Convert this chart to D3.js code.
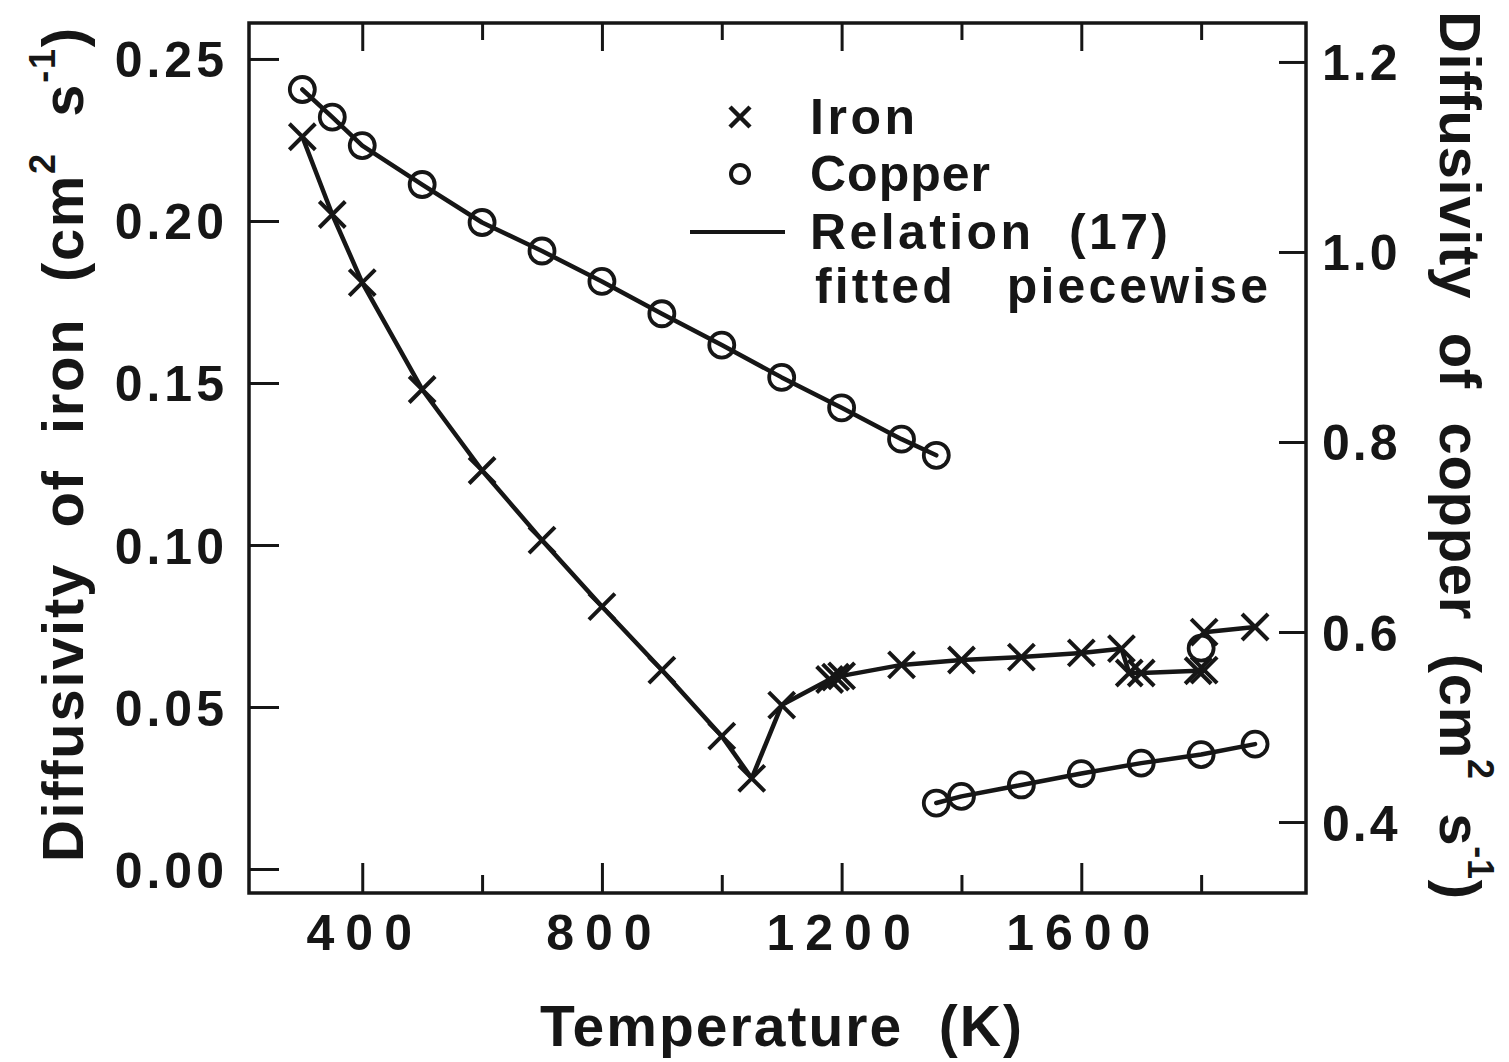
<!DOCTYPE html>
<html>
<head>
<meta charset="utf-8">
<script src="https://cdn.jsdelivr.net/npm/d3@7"></script>
<style>
  html, body { margin: 0; padding: 0; background: #fff; }
  svg { display: block; }
  text { font-family: "Liberation Sans", Arial, sans-serif; fill: #161616; white-space: pre; }
  text.narrow { font-family: "Liberation Sans Narrow", "Arial Narrow", "Liberation Sans", sans-serif; }
</style>
</head>
<body>
<svg id="chart" width="1509" height="1062"></svg>
<script>
// ---------------- data ----------------
// Iron (left axis, cm^2 s^-1), piecewise segments
const ironAlphaT = [300, 350, 400, 500, 600, 700, 800, 900, 1000, 1050, 1100, 1180];
const ironAlphaD = [0.226, 0.202, 0.181, 0.148, 0.123, 0.1015, 0.081, 0.0614, 0.041, 0.028, 0.0506, 0.0585];
const ironGammaT = [1190, 1200, 1300, 1400, 1500, 1600, 1667];
const ironGammaD = [0.0592, 0.0596, 0.063, 0.0645, 0.0654, 0.0667, 0.068];
const ironDeltaT = [1680, 1700, 1795, 1805];
const ironDeltaD = [0.0605, 0.0605, 0.0612, 0.0614];
const ironLiquidT = [1805, 1890];
const ironLiquidD = [0.0731, 0.0747];

// Copper (right axis, cm^2 s^-1)
const copperSolidT = [300, 350, 400, 500, 600, 700, 800, 900, 1000, 1100, 1200, 1300, 1358];
const copperSolidD = [1.171, 1.142, 1.112, 1.071, 1.031, 1.001, 0.969, 0.935, 0.902, 0.868, 0.836, 0.803, 0.786];
const copperLiquidT = [1358, 1400, 1500, 1600, 1700, 1800, 1890];
const copperLiquidD = [0.420, 0.427, 0.439, 0.451, 0.462, 0.471, 0.482];
const copperExtraT = [1800];
const copperExtraD = [0.583];

// Tick labels
const xMajorTicks = [400, 800, 1200, 1600];
const xMinorTicks = [600, 1000, 1400, 1800];
const yLeftTicks = [0.00, 0.05, 0.10, 0.15, 0.20, 0.25];
const yRightTicks = [0.4, 0.6, 0.8, 1.0, 1.2];

const legendLabels = ["Iron", "Copper", "Relation  (17)", "fitted   piecewise"];

// ---------------- layout ----------------
const W = 1509, H = 1062;
const plot = { left: 249, right: 1306, top: 23, bottom: 893 };
const ink = "#161616";

const svg = d3.select("#chart");
svg.append("rect").attr("width", W).attr("height", H).attr("fill", "#fff");

const x = d3.scaleLinear().domain([211, 1975]).range([plot.left, plot.right]);
const yL = d3.scaleLinear().domain([-0.0074, 0.2611]).range([plot.bottom, plot.top]);
const yR = d3.scaleLinear().domain([0.3253, 1.241]).range([plot.bottom, plot.top]);

const zip = (a, b) => a.map((v, i) => [v, b[i]]);

// ---------------- axes ----------------
function styleAxis(g) {
  g.select(".domain").remove();
  g.selectAll(".tick line").attr("stroke", ink).attr("stroke-width", 3);
}

const gxB = svg.append("g").attr("transform", `translate(0,${plot.bottom})`)
  .call(d3.axisBottom(x).tickValues(xMajorTicks).tickSize(-30).tickFormat(d3.format("d")).tickPadding(0));
styleAxis(gxB);
gxB.selectAll(".tick text")
  .attr("y", 57).attr("dy", 0)
  .attr("font-size", 50).attr("font-weight", "bold")
  .attr("letter-spacing", 11).attr("dx", 2)
  .attr("fill", ink);
const gxBm = svg.append("g").attr("transform", `translate(0,${plot.bottom})`)
  .call(d3.axisBottom(x).tickValues(xMinorTicks).tickSize(-18).tickFormat(""));
styleAxis(gxBm);
const gxT = svg.append("g").attr("transform", `translate(0,${plot.top})`)
  .call(d3.axisTop(x).tickValues(xMajorTicks).tickSize(-28).tickFormat(""));
styleAxis(gxT);
const gxTm = svg.append("g").attr("transform", `translate(0,${plot.top})`)
  .call(d3.axisTop(x).tickValues(xMinorTicks).tickSize(-17).tickFormat(""));
styleAxis(gxTm);

const gyL = svg.append("g").attr("transform", `translate(${plot.left},0)`)
  .call(d3.axisLeft(yL).tickValues(yLeftTicks).tickSize(-30).tickFormat(d3.format(".2f")).tickPadding(0));
styleAxis(gyL);
gyL.selectAll(".tick text")
  .attr("x", -21).attr("dy", "0.36em")
  .attr("font-size", 50).attr("font-weight", "bold")
  .attr("letter-spacing", 4)
  .attr("fill", ink);

const gyR = svg.append("g").attr("transform", `translate(${plot.right},0)`)
  .call(d3.axisRight(yR).tickValues(yRightTicks).tickSize(-27).tickFormat(d3.format(".1f")).tickPadding(0));
styleAxis(gyR);
gyR.selectAll(".tick text")
  .attr("x", 16).attr("dy", "0.36em")
  .attr("font-size", 50).attr("font-weight", "bold")
  .attr("letter-spacing", 3)
  .attr("fill", ink);

svg.append("rect")
  .attr("x", plot.left).attr("y", plot.top)
  .attr("width", plot.right - plot.left).attr("height", plot.bottom - plot.top)
  .attr("fill", "none").attr("stroke", ink).attr("stroke-width", 3.5);

// ---------------- axis titles ----------------
svg.append("text")
  .attr("x", 781).attr("y", 1046)
  .attr("text-anchor", "middle")
  .attr("font-size", 57).attr("font-weight", "bold")
  .attr("textLength", 482).attr("lengthAdjust", "spacing")
  .text("Temperature  (K)");

function unitTitle(label, tx, ty, rot, len) {
  const t = svg.append("text").attr("class", "narrow")
    .attr("transform", `translate(${tx},${ty}) rotate(${rot})`)
    .attr("text-anchor", "middle")
    .attr("font-size", 58).attr("font-weight", "bold")
    .attr("textLength", len).attr("lengthAdjust", "spacing");
  t.append("tspan").text(label + "  (cm");
  t.append("tspan").attr("font-size", 36).attr("dy", -28).text("2");
  t.append("tspan").attr("dy", 28).text("  s");
  t.append("tspan").attr("font-size", 36).attr("dy", -28).text("-1");
  t.append("tspan").attr("dy", 28).text(")");
}
unitTitle("Diffusivity  of  iron", 83, 445, -90, 834);
unitTitle("Diffusivity  of  copper", 1440, 455, 90, 888);

// ---------------- data marks ----------------
const lineL = d3.line().x(d => x(d[0])).y(d => yL(d[1]));
const lineR = d3.line().x(d => x(d[0])).y(d => yR(d[1]));

const ironSegs = [zip(ironAlphaT, ironAlphaD), zip(ironGammaT, ironGammaD),
                  zip(ironDeltaT, ironDeltaD), zip(ironLiquidT, ironLiquidD)];
const copperSegs = [zip(copperSolidT, copperSolidD), zip(copperLiquidT, copperLiquidD)];

const ironJoins = [
  [ironSegs[0][ironSegs[0].length - 1], ironSegs[1][0]],
  [ironSegs[1][ironSegs[1].length - 1], ironSegs[2][0]],
];

const lines = svg.append("g").attr("fill", "none").attr("stroke", ink)
  .attr("stroke-width", 4.5).attr("stroke-linejoin", "round").attr("stroke-linecap", "round");
ironSegs.forEach(s => lines.append("path").attr("d", lineL(s)));
ironJoins.forEach(s => lines.append("path").attr("d", lineL(s)));
copperSegs.forEach(s => lines.append("path").attr("d", lineR(s)));

const xr = 13;
const crossPath = `M${-xr},${-xr}L${xr},${xr}M${-xr},${xr}L${xr},${-xr}`;
const ironPts = ironSegs.flat();
svg.append("g").selectAll("path").data(ironPts).join("path")
  .attr("transform", d => `translate(${x(d[0])},${yL(d[1])})`)
  .attr("d", crossPath)
  .attr("stroke", ink).attr("stroke-width", 4).attr("fill", "none");

const copperPts = copperSegs.flat().concat(zip(copperExtraT, copperExtraD));
svg.append("g").selectAll("circle").data(copperPts).join("circle")
  .attr("cx", d => x(d[0])).attr("cy", d => yR(d[1])).attr("r", 12.5)
  .attr("stroke", ink).attr("stroke-width", 3.8).attr("fill", "none");

// ---------------- legend ----------------
const lg = svg.append("g");
lg.append("path").attr("transform", "translate(740,117)")
  .attr("d", "M-10,-10L10,10M-10,10L10,-10").attr("stroke", ink).attr("stroke-width", 4.5).attr("fill", "none");
lg.append("circle").attr("cx", 740).attr("cy", 174).attr("r", 9)
  .attr("stroke", ink).attr("stroke-width", 4).attr("fill", "none");
lg.append("line").attr("x1", 690).attr("x2", 785).attr("y1", 232).attr("y2", 232)
  .attr("stroke", ink).attr("stroke-width", 4);
const legendPos = [[810, 134, 105], [810, 191, 180], [810, 249, 358], [815, 303, 453]];
legendLabels.forEach((t, i) => {
  lg.append("text").attr("class", "narrow").attr("x", legendPos[i][0]).attr("y", legendPos[i][1])
    .attr("font-size", 50).attr("font-weight", "bold")
    .attr("textLength", legendPos[i][2]).attr("lengthAdjust", "spacing")
    .text(t);
});
</script>
</body>
</html>
